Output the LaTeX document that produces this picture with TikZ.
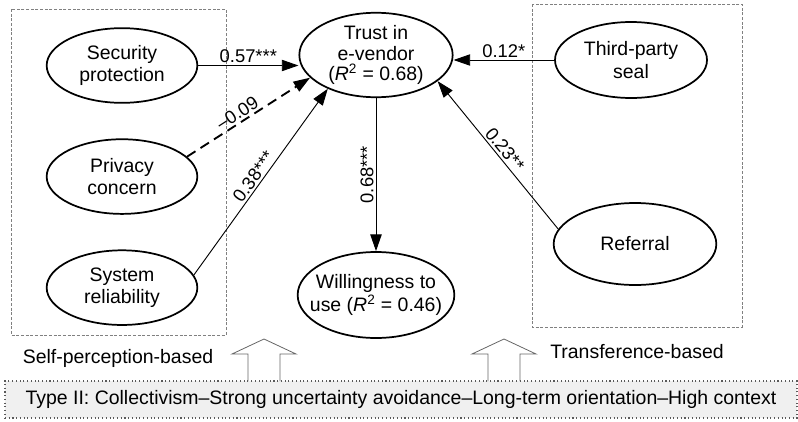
\documentclass[tikz,border=0pt]{standalone}
\usepackage{fontspec}
\setmainfont{Liberation Sans}
\usetikzlibrary{arrows.meta, positioning, shapes.geometric}

\begin{document}
\begin{tikzpicture}[
  x=0.75pt, y=-0.75pt,
  every node/.style={
    font=\fontsize{14.6}{16.8}\selectfont
  },
  construct/.style={
    draw,
    ellipse,
    line width=1.3pt,
    inner sep=0pt,
    align=center,
    minimum width=113pt,
    minimum height=56pt
  },
  arrow/.style={-{Triangle[length=12.5pt, width=8.5pt]}, line width=0.7pt},
  weakarrow/.style={arrow, line width=1.4pt, dash pattern=on 7.5pt off 4.5pt},
  coef/.style={inner sep=1.5pt, font=\fontsize{13.8}{16}\selectfont},
  group/.style={draw=gray, line width=0.5pt, dash pattern=on 2.2pt off 1.3pt},
  hollow/.style={draw=gray!80!black, line width=0.6pt},
  banner/.style={
    draw=gray!70!black,
    dotted,
    line width=0.8pt,
    fill=gray!12,
    minimum width=594pt,
    minimum height=27.75pt,
    inner sep=0pt
  }
]
\useasboundingbox (0,0) rectangle (798,421);

% Groups
\draw[group] (11,9) rectangle (226,335);
\draw[group] (532,4) rectangle (742,327);

% Self-perception-based antecedents
\node[construct] (sec) at (122,65.5) {Security\\protection};
\node[construct, below=26pt of sec] (priv) {Privacy\\concern};
\node[construct, below=26pt of priv] (sys) {System\\reliability};

% Trust and outcome
\node[construct, minimum width=115pt, minimum height=63pt,
  font=\fontsize{14.6}{15.6}\selectfont] (trust) at (376,55)
  {Trust in\\e-vendor\\(\textit{R}\textsuperscript{2} = 0.68)};
\node[construct, minimum width=108pt, minimum height=64.5pt, inner xsep=-8pt]
  (will) at (376,295) {Willingness to\\use (\textit{R}\textsuperscript{2} = 0.46)};

% Transference-based antecedents
\node[construct, minimum width=114pt, minimum height=57pt] (third) at (631,60)
  {Third-party\\seal};
\node[construct, minimum width=122pt, minimum height=61.5pt] (ref) at (635,244)
  {Referral};

% Paths
\draw[arrow] (sec.east) -- (sec.east -| trust.west)
  node[coef, midway, above] {0.57***};
\draw[weakarrow] (priv.17) -- (trust.199)
  node[coef, pos=0.45, above, sloped] {–0.09};
\draw[arrow] (sys.10) -- (trust.215)
  node[coef, midway, above, sloped] {0.38***};
\draw[arrow] (third.west) -- (third.west -| trust.east)
  node[coef, midway, above] {0.12*};
\draw[arrow] (ref.169) -- (trust.337)
  node[coef, midway, above, sloped] {0.23**};
\draw[arrow] (trust) -- (will)
  node[coef, midway, rotate=90, anchor=south] {0.68***};

% Group labels
\node (selflabel) at (118,358) {Self-perception-based};
\node (translabel) at (637,352) {Transference-based};

% Cultural type
\node[banner] (type) at (401,399.5)
  {Type II: Collectivism–Strong uncertainty avoidance–Long-term orientation–High context};
\foreach \tipx in {264,504}
  \draw[hollow] (\tipx-16,381) -- ++(0,-27) -- ++(-16,0) -- (\tipx,339)
    -- (\tipx+32,354) -- ++(-16,0) -- ++(0,27);

\end{tikzpicture}
\end{document}
